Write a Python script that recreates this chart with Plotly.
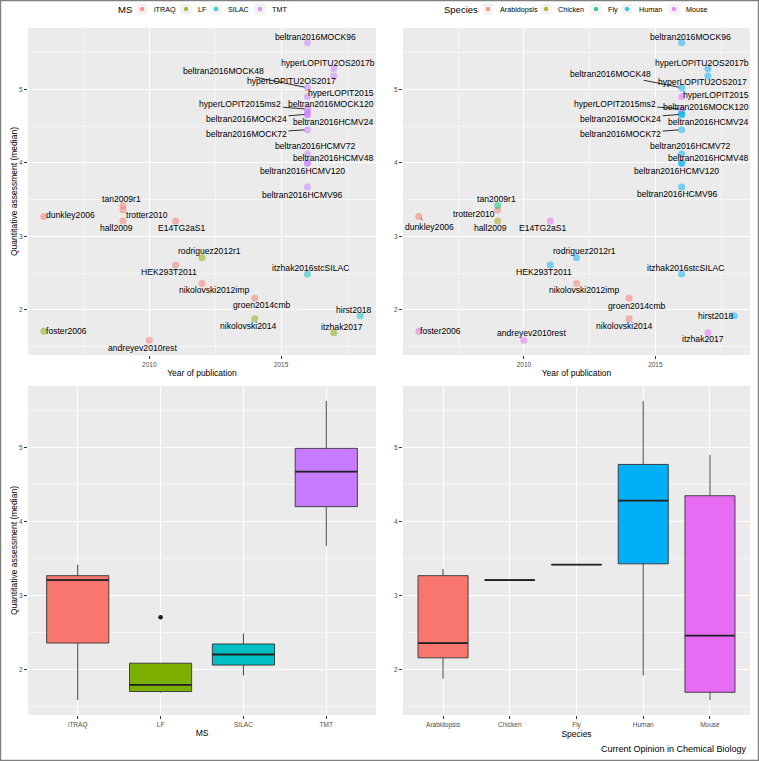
import numpy as np
import plotly.graph_objects as go

# ---- data ----
studies = ["beltran2016MOCK96", "hyperLOPITU2OS2017b", "hyperLOPITU2OS2017", "beltran2016MOCK48",
           "hyperLOPIT2015", "hyperLOPIT2015ms2", "beltran2016MOCK120", "beltran2016MOCK24",
           "beltran2016HCMV24", "beltran2016MOCK72", "beltran2016HCMV72", "beltran2016HCMV48",
           "beltran2016HCMV120", "beltran2016HCMV96", "tan2009r1", "trotter2010", "dunkley2006",
           "hall2009", "E14TG2aS1", "rodriguez2012r1", "HEK293T2011", "itzhak2016stcSILAC",
           "nikolovski2012imp", "groen2014cmb", "hirst2018", "nikolovski2014", "foster2006",
           "itzhak2017", "andreyev2010rest"]
years = [2016, 2017, 2017, 2016, 2016, 2016, 2016, 2016, 2016, 2016, 2016, 2016, 2016, 2016,
         2009, 2009, 2006, 2009, 2011, 2012, 2011, 2016, 2012, 2014, 2018, 2014, 2006, 2017, 2010]
scores = [5.63, 5.28, 5.18, 5.02, 4.90, 4.73, 4.69, 4.66, 4.65, 4.45, 4.12, 4.00, 3.99, 3.67,
          3.42, 3.36, 3.27, 3.21, 3.21, 2.71, 2.61, 2.49, 2.36, 2.16, 1.92, 1.88, 1.71, 1.69, 1.59]
ms = ["TMT"] * 14 + ["iTRAQ", "iTRAQ", "iTRAQ", "iTRAQ", "iTRAQ", "LF", "iTRAQ", "SILAC",
                     "iTRAQ", "iTRAQ", "SILAC", "LF", "LF", "LF", "iTRAQ"]
species = ["Human", "Human", "Human", "Human", "Mouse", "Mouse", "Human", "Human", "Human",
           "Human", "Human", "Human", "Human", "Human", "Fly", "Arabidopsis", "Arabidopsis",
           "Chicken", "Mouse", "Human", "Human", "Human", "Arabidopsis", "Arabidopsis", "Human",
           "Arabidopsis", "Mouse", "Mouse", "Mouse"]

ms_levels = ["iTRAQ", "LF", "SILAC", "TMT"]
ms_colors = ["#F8766D", "#7CAE00", "#00BFC4", "#C77CFF"]
sp_levels = ["Arabidopsis", "Chicken", "Fly", "Human", "Mouse"]
sp_colors = ["#F8766D", "#A3A500", "#00BF7D", "#00B0F6", "#E76BF3"]

# label offsets (px, ggrepel-like placement) and whether a segment is drawn
offsets_ms = {
    "beltran2016MOCK96": (8, -6, 0), "hyperLOPITU2OS2017b": (-6, -6, 0),
    "hyperLOPITU2OS2017": (-42, 5, 0), "beltran2016MOCK48": (-84, -17, 1),
    "hyperLOPIT2015": (34, -4, 0), "hyperLOPIT2015ms2": (-67, -5, 1),
    "beltran2016MOCK120": (24, -8, 0), "beltran2016MOCK24": (-61, 5, 1),
    "beltran2016HCMV24": (26, 7, 0), "beltran2016MOCK72": (-61, 4, 1),
    "beltran2016HCMV72": (8, -8, 0), "beltran2016HCMV48": (26, -5, 0),
    "beltran2016HCMV120": (-5, 7, 0), "beltran2016HCMV96": (-5, 7.5, 0),
    "tan2009r1": (-1, -6.5, 0), "trotter2010": (24, 5, 0), "hall2009": (-6, 7, 0),
    "dunkley2006": (27, -2, 0), "E14TG2aS1": (6.5, 7, 0), "rodriguez2012r1": (7, -7, 0),
    "HEK293T2011": (-7, 6.5, 0), "nikolovski2012imp": (12, 6.5, 0), "groen2014cmb": (7.5, 7, 0),
    "itzhak2016stcSILAC": (3, -6, 0), "hirst2018": (-6, -6, 0), "nikolovski2014": (-6, 7, 0),
    "itzhak2017": (8, -6, 0), "foster2006": (23, 0, 0), "andreyev2010rest": (-7, 7.5, 0),
}
offsets_sp = {
    "beltran2016MOCK96": (8.5, -6, 0), "hyperLOPITU2OS2017b": (-6, -6, 0),
    "hyperLOPITU2OS2017": (-5, 6.5, 0), "beltran2016MOCK48": (-71, -14, 1),
    "hyperLOPIT2015": (34, -1.5, 0), "hyperLOPIT2015ms2": (-67, -5.5, 1),
    "beltran2016MOCK120": (24, -5.5, 0), "beltran2016MOCK24": (-61, 5, 1),
    "beltran2016HCMV24": (26.5, 7.5, 0), "beltran2016MOCK72": (-61, 4.5, 1),
    "beltran2016HCMV72": (8, -8, 0), "beltran2016HCMV48": (26.5, -4.5, 0),
    "beltran2016HCMV120": (-5, 7.5, 0), "beltran2016HCMV96": (-4.5, 6.5, 0),
    "tan2009r1": (-1, -6, 0), "trotter2010": (-24, 4, 0), "hall2009": (-7, 7, 0),
    "dunkley2006": (11, 10, 1), "E14TG2aS1": (-7, 7, 0), "rodriguez2012r1": (8, -7, 0),
    "HEK293T2011": (-6.5, 6.5, 0), "nikolovski2012imp": (7, 6.5, 0), "groen2014cmb": (8, 7.5, 0),
    "itzhak2016stcSILAC": (3.5, -6, 0), "hirst2018": (-18.5, 0, 0), "nikolovski2014": (-5, 7, 0),
    "itzhak2017": (-5, 6.5, 0), "foster2006": (22, 0, 0), "andreyev2010rest": (7.5, -7, 0),
}

# legend layout (pixel x of each key, title left edge)
ms_key_x = [142, 186, 216, 260]
sp_key_x = [488, 546, 596, 627, 674]
legend_y = 9

FONT = "Liberation Sans, Arial, sans-serif"
W, H = 759, 761


def px_x(a, b):
    return [a / W, b / W]


def px_y(top, bottom):
    return [1 - bottom / H, 1 - top / H]


def box_stats(vals):
    v = np.sort(np.asarray(vals, dtype=float))
    q1, med, q3 = np.percentile(v, [25, 50, 75])
    iqr = q3 - q1
    lo = v[v >= q1 - 1.5 * iqr].min()
    hi = v[v <= q3 + 1.5 * iqr].max()
    out = v[(v < q1 - 1.5 * iqr) | (v > q3 + 1.5 * iqr)]
    return q1, med, q3, min(lo, q1), max(hi, q3), out


fig = go.Figure()

years_a = np.array(years)
scores_a = np.array(scores)
ms_a = np.array(ms)
sp_a = np.array(species)

# scatter: coloured by MS (top left)
for lvl, col in zip(ms_levels, ms_colors):
    m = ms_a == lvl
    fig.add_trace(go.Scatter(
        x=years_a[m], y=scores_a[m], mode="markers", name=lvl, showlegend=False,
        marker=dict(color=col, size=7, opacity=0.5),
        xaxis="x", yaxis="y", hoverinfo="skip"))

# scatter: coloured by species (top right)
for lvl, col in zip(sp_levels, sp_colors):
    m = sp_a == lvl
    fig.add_trace(go.Scatter(
        x=years_a[m], y=scores_a[m], mode="markers", name=lvl, showlegend=False,
        marker=dict(color=col, size=7, opacity=0.5),
        xaxis="x2", yaxis="y2", hoverinfo="skip"))

shapes = []
annotations = []


def add_boxes(levels, colors, groups, xa, ya):
    for i, (lvl, col) in enumerate(zip(levels, colors)):
        vals = scores_a[groups == lvl]
        q1, med, q3, lo, hi, out = box_stats(vals)
        fig.add_trace(go.Box(
            x=[lvl], q1=[q1], median=[med], q3=[q3], lowerfence=[lo], upperfence=[hi],
            fillcolor=col, line=dict(color="#333333", width=0.9), whiskerwidth=0,
            width=0.75, boxpoints=False, showlegend=False, xaxis=xa, yaxis=ya,
            hoverinfo="skip"))
        shapes.append(dict(type="line", xref=xa, yref=ya, x0=i - 0.375, x1=i + 0.375,
                           y0=med, y1=med, line=dict(color="#222222", width=1.8)))
        if len(out):
            fig.add_trace(go.Scatter(
                x=[lvl] * len(out), y=out, mode="markers", showlegend=False,
                marker=dict(color="#1a1a1a", size=4.5), xaxis=xa, yaxis=ya,
                hoverinfo="skip"))


add_boxes(ms_levels, ms_colors, ms_a, "x3", "y3")
add_boxes(sp_levels, sp_colors, sp_a, "x4", "y4")

# point labels
for xa, ya, offs in (("x", "y", offsets_ms), ("x2", "y2", offsets_sp)):
    for name, yr, sc in zip(studies, years, scores):
        dx, dy, seg = offs[name]
        annotations.append(dict(
            x=yr, y=sc, xref=xa, yref=ya, text=name, showarrow=True, ax=dx, ay=dy,
            arrowhead=0, arrowwidth=0.8, standoff=3,
            arrowcolor="black" if seg else "rgba(0,0,0,0)",
            font=dict(family=FONT, size=8.6, color="black")))


# legends drawn ggplot-style: title, grey key squares, dots, labels
def add_legend(title, title_x, levels, colors, key_x):
    yc = 1 - legend_y / H
    annotations.append(dict(text=title, xref="paper", yref="paper", x=title_x / W, y=yc,
                            xanchor="left", yanchor="middle", showarrow=False,
                            font=dict(family=FONT, size=9.5, color="black")))
    for lvl, col, kx in zip(levels, colors, key_x):
        shapes.append(dict(type="rect", xref="paper", yref="paper",
                           x0=(kx - 5.5) / W, x1=(kx + 5.5) / W,
                           y0=(H - legend_y - 5.5) / H, y1=(H - legend_y + 5.5) / H,
                           fillcolor="#F2F2F2", line=dict(width=0)))
        shapes.append(dict(type="circle", xref="paper", yref="paper",
                           x0=(kx - 2.2) / W, x1=(kx + 2.2) / W,
                           y0=(H - legend_y - 2.2) / H, y1=(H - legend_y + 2.2) / H,
                           fillcolor=col, opacity=0.75, line=dict(width=0)))
        annotations.append(dict(text=lvl, xref="paper", yref="paper", x=(kx + 9.5) / W,
                                y=yc, xanchor="left", yanchor="middle", showarrow=False,
                                font=dict(family=FONT, size=7.2, color="black")))


add_legend("MS", 116, ms_levels, ms_colors, ms_key_x)
add_legend("Species", 442, sp_levels, sp_colors, sp_key_x)

annotations.append(dict(
    text="Current Opinion in Chemical Biology", xref="paper", yref="paper",
    x=749 / W, y=1 - 749 / H, xanchor="right", yanchor="middle", showarrow=False,
    font=dict(family=FONT, size=9, color="black")))

shapes.append(dict(type="rect", xref="paper", yref="paper", x0=0.6 / W, x1=1 - 0.6 / W,
                   y0=0.6 / H, y1=1 - 0.6 / H, line=dict(color="#7f7f7f", width=1.2)))

yrange = [1.388, 5.832]
tickfont = dict(family=FONT, size=6.5, color="#4D4D4D")
titlefont = dict(family=FONT, size=8.5, color="black")
grid = dict(showgrid=True, gridcolor="white", gridwidth=1, zeroline=False,
            ticks="outside", ticklen=3, tickcolor="#333333", tickwidth=0.8,
            tickfont=tickfont, showline=False)
yaxis_common = dict(range=yrange, tick0=0, dtick=1,
                    minor=dict(dtick=0.5, tick0=0, showgrid=True, gridcolor="#F5F5F5",
                               gridwidth=0.5),
                    **grid)
year_axis = dict(range=[2005.4, 2018.6], tick0=2010, dtick=5,
                 minor=dict(dtick=2.5, tick0=2005, showgrid=True, gridcolor="#F5F5F5",
                            gridwidth=0.5),
                 title=dict(text="Year of publication", font=titlefont, standoff=3),
                 **grid)

fig.update_layout(
    width=W, height=H, margin=dict(l=0, r=0, t=0, b=0),
    paper_bgcolor="white", plot_bgcolor="#EBEBEB",
    font=dict(family=FONT, color="black"),
    showlegend=False,
    xaxis=dict(domain=px_x(28, 376), anchor="y", **year_axis),
    yaxis=dict(domain=px_y(28, 355), anchor="x",
               title=dict(text="Quantitative assessment (median)", font=titlefont, standoff=0),
               **yaxis_common),
    xaxis2=dict(domain=px_x(403, 750), anchor="y2", **year_axis),
    yaxis2=dict(domain=px_y(28, 355), anchor="x2", **yaxis_common),
    xaxis3=dict(domain=px_x(28, 376), anchor="y3", type="category",
                categoryorder="array", categoryarray=ms_levels, range=[-0.6, 3.6],
                title=dict(text="MS", font=titlefont, standoff=2), **grid),
    yaxis3=dict(domain=px_y(386, 715), anchor="x3",
                title=dict(text="Quantitative assessment (median)", font=titlefont, standoff=0),
                **yaxis_common),
    xaxis4=dict(domain=px_x(403, 750), anchor="y4", type="category",
                categoryorder="array", categoryarray=sp_levels, range=[-0.6, 4.6],
                title=dict(text="Species", font=titlefont, standoff=2), **grid),
    yaxis4=dict(domain=px_y(386, 715), anchor="x4", **yaxis_common),
    annotations=annotations,
    shapes=shapes,
)

# remove the browser's default body margin so the figure sits at the window origin
fig.write_html("out.html", config={"displayModeBar": False},
               post_script="document.body.style.margin='0';document.body.style.overflow='hidden';")
